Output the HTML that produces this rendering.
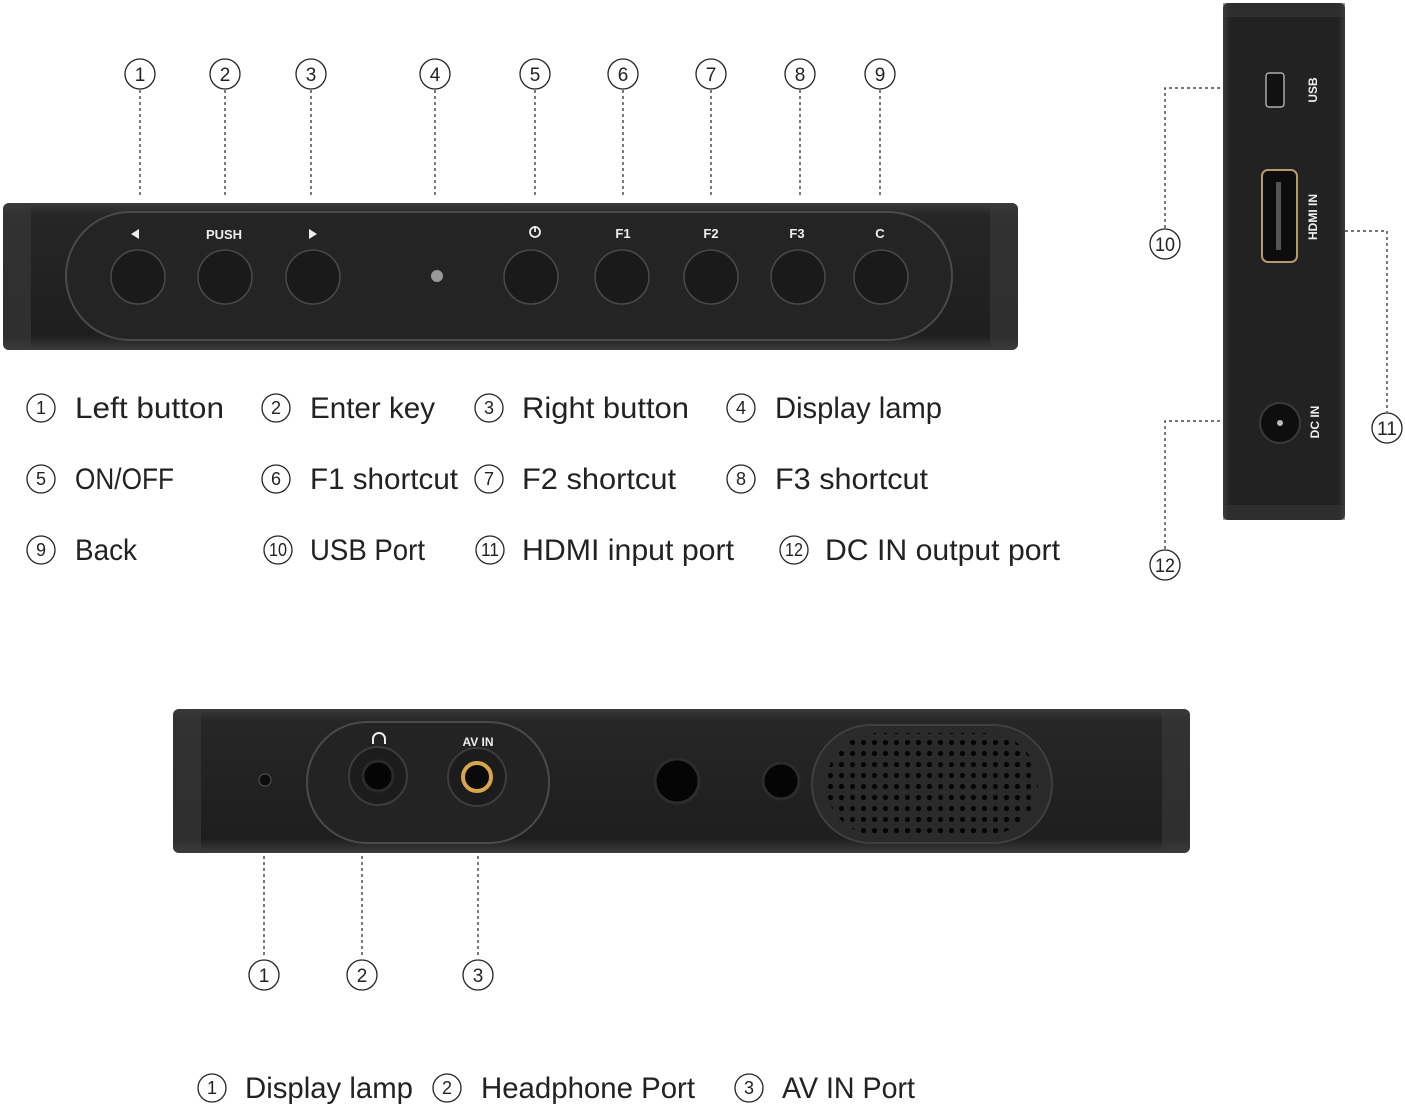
<!DOCTYPE html>
<html><head><meta charset="utf-8"><style>
html,body{margin:0;padding:0;background:#fff;}
svg{display:block}
text{font-family:"Liberation Sans",sans-serif}
</style></head><body>
<svg width="1405" height="1108" viewBox="0 0 1405 1108" xmlns="http://www.w3.org/2000/svg">
<defs>
<linearGradient id="bar" x1="0" y1="0" x2="0" y2="1">
<stop offset="0" stop-color="#3a3a3a"/><stop offset="0.08" stop-color="#262626"/><stop offset="0.9" stop-color="#1e1e1e"/><stop offset="1" stop-color="#3c3c3c"/></linearGradient>
<linearGradient id="side" x1="0" y1="0" x2="1" y2="0">
<stop offset="0" stop-color="#3a3a3a"/><stop offset="0.06" stop-color="#222"/><stop offset="0.94" stop-color="#222"/><stop offset="1" stop-color="#3a3a3a"/></linearGradient>
<pattern id="dots" x="0" y="0" width="11" height="11" patternUnits="userSpaceOnUse">
<circle cx="5.5" cy="5.5" r="2.6" fill="#050505"/></pattern>
<g id="btn"><circle r="27" fill="#1a1a1a" stroke="#4a4a4a" stroke-width="1.5"/></g>
</defs>

<g fill="none" stroke="#222" stroke-width="1.2" stroke-dasharray="3,3">
<path d="M140 90V198M225 90V198M311 90V198M435 90V198M535 90V198M623 90V198M711 90V198M800 90V198M880 90V198"/>
<path d="M1165 228V88H1222"/>
<path d="M1345 231H1387V412"/>
<path d="M1165 549V421H1253"/>
<path d="M264 790V958M362 790V958M478 790V958"/>
</g>

<!-- top numbers -->
<g fill="none" stroke="#222" stroke-width="1.3">
<circle cx="140" cy="74" r="15"/><circle cx="225" cy="74" r="15"/><circle cx="311" cy="74" r="15"/><circle cx="435" cy="74" r="15"/><circle cx="535" cy="74" r="15"/><circle cx="623" cy="74" r="15"/><circle cx="711" cy="74" r="15"/><circle cx="800" cy="74" r="15"/><circle cx="880" cy="74" r="15"/>
<circle cx="1165" cy="244" r="15"/><circle cx="1387" cy="428" r="15"/><circle cx="1165" cy="565" r="15"/>
<circle cx="264" cy="975" r="15"/><circle cx="362" cy="975" r="15"/><circle cx="478" cy="975" r="15"/>
<circle cx="41" cy="408" r="14"/><circle cx="276" cy="408" r="14"/><circle cx="489" cy="408" r="14"/><circle cx="741" cy="408" r="14"/>
<circle cx="41" cy="479" r="14"/><circle cx="276" cy="479" r="14"/><circle cx="489" cy="479" r="14"/><circle cx="741" cy="479" r="14"/>
<circle cx="41" cy="550" r="14"/><circle cx="278" cy="550" r="14"/><circle cx="490" cy="550" r="14"/><circle cx="794" cy="550" r="14"/>
<circle cx="212" cy="1088" r="14"/><circle cx="447" cy="1088" r="14"/><circle cx="749" cy="1088" r="14"/>
</g>
<g font-size="19" fill="#222" text-anchor="middle">
<text x="140" y="81">1</text><text x="225" y="81">2</text><text x="311" y="81">3</text><text x="435" y="81">4</text><text x="535" y="81">5</text><text x="623" y="81">6</text><text x="711" y="81">7</text><text x="800" y="81">8</text><text x="880" y="81">9</text>
<text x="1165" y="251" textLength="20" lengthAdjust="spacingAndGlyphs">10</text><text x="1387" y="435" textLength="20" lengthAdjust="spacingAndGlyphs">11</text><text x="1165" y="572" textLength="20" lengthAdjust="spacingAndGlyphs">12</text>
<text x="264" y="982">1</text><text x="362" y="982">2</text><text x="478" y="982">3</text>
</g>
<g font-size="18" fill="#222" text-anchor="middle">
<text x="41" y="414">1</text><text x="276" y="414">2</text><text x="489" y="414">3</text><text x="741" y="414">4</text>
<text x="41" y="485">5</text><text x="276" y="485">6</text><text x="489" y="485">7</text><text x="741" y="485">8</text>
<text x="41" y="556">9</text><text x="278" y="556" textLength="18" lengthAdjust="spacingAndGlyphs">10</text><text x="490" y="556" textLength="18" lengthAdjust="spacingAndGlyphs">11</text><text x="794" y="556" textLength="18" lengthAdjust="spacingAndGlyphs">12</text>
<text x="212" y="1094">1</text><text x="447" y="1094">2</text><text x="749" y="1094">3</text>
</g>

<!-- legend -->
<g font-size="30" fill="#222" lengthAdjust="spacingAndGlyphs">
<text x="75" y="418" textLength="149" lengthAdjust="spacingAndGlyphs">Left button</text>
<text x="310" y="418" textLength="125" lengthAdjust="spacingAndGlyphs">Enter key</text>
<text x="522" y="418" textLength="167" lengthAdjust="spacingAndGlyphs">Right button</text>
<text x="775" y="418" textLength="167" lengthAdjust="spacingAndGlyphs">Display lamp</text>
<text x="75" y="489" textLength="99" lengthAdjust="spacingAndGlyphs">ON/OFF</text>
<text x="310" y="489" textLength="148" lengthAdjust="spacingAndGlyphs">F1 shortcut</text>
<text x="522" y="489" textLength="154" lengthAdjust="spacingAndGlyphs">F2 shortcut</text>
<text x="775" y="489" textLength="153" lengthAdjust="spacingAndGlyphs">F3 shortcut</text>
<text x="75" y="560" textLength="62" lengthAdjust="spacingAndGlyphs">Back</text>
<text x="310" y="560" textLength="115" lengthAdjust="spacingAndGlyphs">USB Port</text>
<text x="522" y="560" textLength="212" lengthAdjust="spacingAndGlyphs">HDMI input port</text>
<text x="825" y="560" textLength="235" lengthAdjust="spacingAndGlyphs">DC IN output port</text>
<text x="245" y="1098" textLength="168" lengthAdjust="spacingAndGlyphs">Display lamp</text>
<text x="481" y="1098" textLength="214" lengthAdjust="spacingAndGlyphs">Headphone Port</text>
<text x="782" y="1098" textLength="133" lengthAdjust="spacingAndGlyphs">AV IN Port</text>
</g>

<!-- top bar -->
<rect x="3" y="203" width="1015" height="147" rx="6" fill="url(#bar)"/>
<rect x="3" y="203" width="28" height="147" rx="6" fill="#3a3a3a" opacity="0.6"/>
<rect x="990" y="203" width="28" height="147" rx="6" fill="#3a3a3a" opacity="0.6"/>
<rect x="66" y="212" width="886" height="128" rx="64" fill="#242424" stroke="#4a4a4a" stroke-width="2"/>
<use href="#btn" x="138" y="277"/><use href="#btn" x="225" y="277"/><use href="#btn" x="313" y="277"/>
<use href="#btn" x="531" y="277"/><use href="#btn" x="622" y="277"/><use href="#btn" x="711" y="277"/><use href="#btn" x="798" y="277"/><use href="#btn" x="881" y="277"/>
<circle cx="437" cy="276" r="6" fill="#999"/>
<g fill="#eee" font-size="13" font-weight="bold" text-anchor="middle">
<path d="M131 234l8-5v10z"/><text x="224" y="239">PUSH</text><path d="M309 229l8 5-8 5z"/>
<circle cx="535" cy="232" r="5" fill="none" stroke="#eee" stroke-width="1.8"/><path d="M535 226v6" stroke="#eee" stroke-width="1.8"/>
<text x="623" y="238">F1</text><text x="711" y="238">F2</text><text x="797" y="238">F3</text><text x="880" y="238">C</text>
</g>

<!-- side panel -->
<rect x="1223" y="3" width="122" height="517" rx="5" fill="url(#side)"/>
<rect x="1223" y="3" width="122" height="14" fill="#3a3a3a" opacity="0.5"/>
<rect x="1223" y="505" width="122" height="15" fill="#3a3a3a" opacity="0.5"/>
<rect x="1266" y="73" width="18" height="34" rx="3" fill="#111" stroke="#ccc" stroke-width="1.2"/>
<rect x="1262" y="170" width="35" height="92" rx="6" fill="#0d0d0d" stroke="#b59a6a" stroke-width="2"/>
<rect x="1276" y="182" width="5" height="68" fill="#555"/>
<circle cx="1280" cy="423" r="20" fill="#0e0e0e" stroke="#3a3a3a" stroke-width="2"/>
<circle cx="1280" cy="423" r="3" fill="#bbb"/>
<g fill="#eee" font-size="12" font-weight="bold" text-anchor="middle">
<text transform="translate(1317 90) rotate(-90)">USB</text>
<text transform="translate(1317 217) rotate(-90)">HDMI IN</text>
<text transform="translate(1319 422) rotate(-90)">DC IN</text>
</g>

<!-- bottom bar -->
<rect x="173" y="709" width="1017" height="144" rx="6" fill="url(#bar)"/>
<rect x="173" y="709" width="28" height="144" rx="6" fill="#3a3a3a" opacity="0.6"/>
<rect x="1162" y="709" width="28" height="144" rx="6" fill="#3a3a3a" opacity="0.6"/>
<rect x="307" y="722" width="242" height="121" rx="60" fill="#232323" stroke="#4a4a4a" stroke-width="2"/>
<circle cx="265" cy="780" r="6" fill="#0c0c0c" stroke="#555"/>
<circle cx="378" cy="776" r="29" fill="#1c1c1c" stroke="#3c3c3c" stroke-width="2"/>
<circle cx="378" cy="776" r="15" fill="#050505" stroke="#2a2a2a" stroke-width="3"/>
<circle cx="477" cy="777" r="29" fill="#1c1c1c" stroke="#3c3c3c" stroke-width="2"/>
<circle cx="477" cy="777" r="14" fill="#0a0a0a" stroke="#d9a54a" stroke-width="4"/>
<g fill="#eee" font-size="12" font-weight="bold" text-anchor="middle">
<path d="M373 744v-5a6 6 0 0 1 12 0v5" fill="none" stroke="#eee" stroke-width="2"/>
<text x="478" y="746">AV IN</text>
</g>
<circle cx="677" cy="781" r="22" fill="#050505" stroke="#2c2c2c" stroke-width="3"/>
<circle cx="781" cy="781" r="18" fill="#050505" stroke="#2c2c2c" stroke-width="3"/>
<rect x="812" y="725" width="240" height="118" rx="59" fill="#2a2a2a" stroke="#3f3f3f" stroke-width="2"/>
<rect x="826" y="733" width="212" height="102" rx="51" fill="url(#dots)"/>
</svg>
</body></html>
